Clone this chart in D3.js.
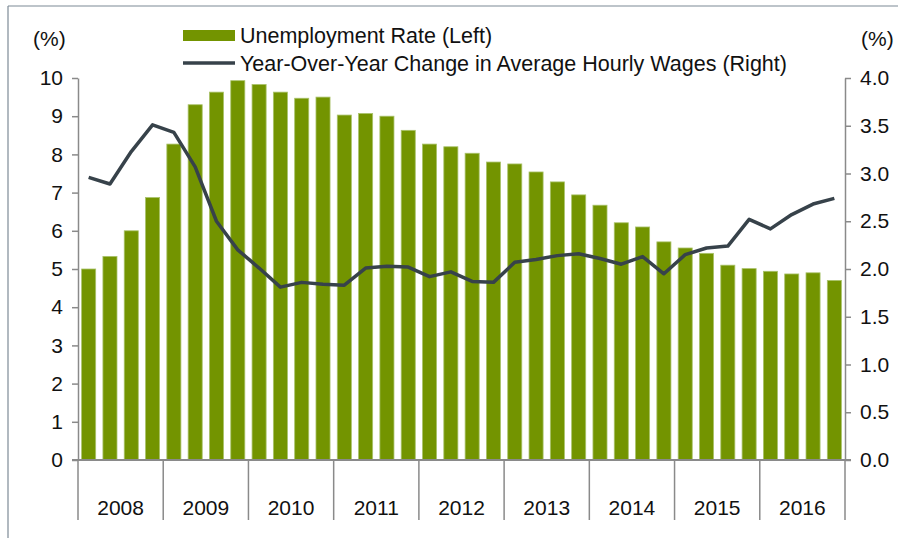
<!DOCTYPE html>
<html>
<head>
  <meta charset="utf-8">
  <script src="https://d3js.org/d3.v7.min.js"></script>
  <style>
    body { margin: 0; background: #fff; }
    text { font-family: "Liberation Sans", Arial, sans-serif; fill: #111; }
  </style>
</head>
<body>
<script>

  // quarterly data, 2008 Q1 - 2016 Q4
  var years = ["2008", "2009", "2010", "2011", "2012", "2013", "2014", "2015", "2016"];
  var quarters = ["Q1", "Q2", "Q3", "Q4"];

  // unemployment rate (%), left axis
  var unemployment = [5.0, 5.33, 6.0, 6.87, 8.27, 9.3, 9.63, 9.93,
                      9.83, 9.63, 9.47, 9.5, 9.03, 9.07, 9.0, 8.63,
                      8.27, 8.2, 8.03, 7.8, 7.75, 7.54, 7.28, 6.94,
                      6.67, 6.21, 6.1, 5.71, 5.55, 5.41, 5.1, 5.01,
                      4.94, 4.87, 4.9, 4.7];

  // y/y change in average hourly wages (%), right axis
  var wages = [2.96, 2.89, 3.23, 3.51, 3.43, 3.07, 2.5, 2.2,
               2.01, 1.81, 1.86, 1.84, 1.83, 2.01, 2.03, 2.02,
               1.92, 1.97, 1.87, 1.86, 2.07, 2.1, 2.14, 2.16,
               2.11, 2.05, 2.13, 1.95, 2.15, 2.22, 2.24, 2.52,
               2.42, 2.57, 2.68, 2.74];

  var leftTicks = [0, 1, 2, 3, 4, 5, 6, 7, 8, 9, 10];
  var rightTicks = [0, 0.5, 1, 1.5, 2, 2.5, 3, 3.5, 4];

  var width = 898, height = 538;
  var x0 = 78, x1 = 845, yTop = 78, yBase = 460;
  var fontSize = "21px";

  var svg = d3.select("body").append("svg")
      .attr("width", width)
      .attr("height", height);

  // frame lines (top / left)
  svg.append("line").attr("x1", 8).attr("x2", width).attr("y1", 6).attr("y2", 6)
      .style("stroke", "#7d8a96").style("stroke-width", 1.2);
  svg.append("line").attr("x1", 8).attr("x2", 8).attr("y1", 6).attr("y2", height)
      .style("stroke", "#7d8a96").style("stroke-width", 1.2);

  var keys = [];
  years.forEach(function(y){ quarters.forEach(function(q){ keys.push(y + q); }); });

  var x = d3.scaleBand()
      .domain(keys)
      .range([x0, x1])
      .paddingInner(0.34)
      .paddingOuter(0.17);

  var xYear = d3.scaleBand()
      .domain(years)
      .range([x0, x1]);

  var yLeft = d3.scaleLinear().domain([0, 10]).range([yBase, yTop]);
  var yRight = d3.scaleLinear().domain([0, 4]).range([yBase, yTop]);

  // bars
  svg.append("g").selectAll("rect")
      .data(unemployment)
      .enter().append("rect")
      .attr("x", function(d, i){ return x(keys[i]); })
      .attr("width", x.bandwidth())
      .attr("y", function(d){ return yLeft(d); })
      .attr("height", function(d){ return yBase - yLeft(d); })
      .style("fill", "#739400")
      .style("stroke", "#a9c26a")
      .style("stroke-width", 0.8);

  // axes
  var axisColor = "#8a8a8a";

  var leftAxis = svg.append("g")
      .attr("transform", "translate(" + x0 + ",0)")
      .call(d3.axisLeft(yLeft).tickValues(leftTicks).tickSize(6).tickSizeOuter(0).tickPadding(9));

  var rightAxis = svg.append("g")
      .attr("transform", "translate(" + x1 + ",0)")
      .call(d3.axisRight(yRight).tickValues(rightTicks).tickFormat(d3.format(".1f")).tickSize(6).tickSizeOuter(0).tickPadding(9));

  [leftAxis, rightAxis].forEach(function(a){
    a.selectAll("path, line").style("stroke", axisColor).style("stroke-width", 1.5);
    a.selectAll("text").style("font-size", fontSize).style("fill", "#111");
  });

  // category axis
  svg.append("line")
      .attr("x1", x0 - 6).attr("x2", x1 + 6)
      .attr("y1", yBase).attr("y2", yBase)
      .style("stroke", axisColor).style("stroke-width", 2);

  var sepPos = years.map(function(y){ return xYear(y); }).concat([x1]);
  svg.append("g").selectAll("line")
      .data(sepPos)
      .enter().append("line")
      .attr("x1", function(d){ return d; }).attr("x2", function(d){ return d; })
      .attr("y1", yBase).attr("y2", 520)
      .style("stroke", axisColor).style("stroke-width", 1.5);

  svg.append("g").selectAll("text")
      .data(years)
      .enter().append("text")
      .attr("x", function(d){ return xYear(d) + xYear.bandwidth() / 2; })
      .attr("y", 515)
      .attr("text-anchor", "middle")
      .style("font-size", fontSize)
      .text(function(d){ return d; });

  // wage line
  var line = d3.line()
      .x(function(d, i){ return x(keys[i]) + x.bandwidth() / 2; })
      .y(function(d){ return yRight(d); });

  svg.append("path")
      .datum(wages)
      .attr("d", line)
      .style("fill", "none")
      .style("stroke", "#37424a")
      .style("stroke-width", 3.5)
      .style("stroke-linejoin", "round");

  // unit labels
  svg.append("text").attr("x", 33).attr("y", 46).style("font-size", fontSize).text("(%)");
  svg.append("text").attr("x", 861).attr("y", 46).style("font-size", fontSize).text("(%)");

  // legend
  var legend = svg.append("g");
  legend.append("rect")
      .attr("x", 183).attr("y", 30).attr("width", 52).attr("height", 11)
      .style("fill", "#739400");
  legend.append("text").attr("x", 240).attr("y", 43).style("font-size", "21.5px")
      .text("Unemployment Rate (Left)");
  legend.append("line")
      .attr("x1", 183).attr("x2", 235).attr("y1", 63).attr("y2", 63)
      .style("stroke", "#37424a").style("stroke-width", 3.5);
  legend.append("text").attr("x", 240).attr("y", 71).style("font-size", "21.5px")
      .text("Year-Over-Year Change in Average Hourly Wages (Right)");

</script>
</body>
</html>
